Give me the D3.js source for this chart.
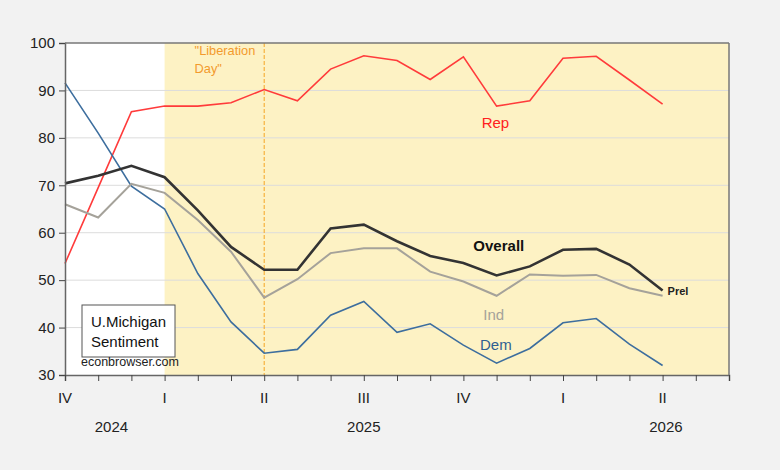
<!DOCTYPE html>
<html>
<head>
<meta charset="utf-8">
<script src="https://cdn.jsdelivr.net/npm/d3@7"></script>
<style>
body{margin:0;background:#f2f2f2;}
svg{display:block;font-family:Arial,"Liberation Sans",sans-serif;}
.grid line{stroke:#dcdcdc;stroke-width:1;}
.ejeY text,.ejeX text{font-size:15px;fill:#222;}
</style>
</head>
<body>
<div id="grafica"></div>
<script>
// meses desde oct 2024 (indice 0) hasta abr 2026 (indice 18)
var meses = d3.range(0,19);
var rep     = [53.5,69.5,85.5,86.7,86.7,87.4,90.2,87.8,94.5,97.3,96.3,92.3,97.1,86.7,87.8,96.8,97.2,92.2,87.1];
var overall = [70.4,72.0,74.1,71.7,64.7,57.0,52.2,52.2,60.9,61.7,58.2,55.1,53.6,51.0,52.9,56.4,56.6,53.3,47.8];
var ind     = [66.0,63.2,70.3,68.4,62.7,56.0,46.3,50.2,55.7,56.7,56.7,51.8,49.7,46.7,51.2,50.9,51.1,48.3,46.7];
var dem     = [91.6,81.0,69.8,65.0,51.4,41.2,34.6,35.4,42.6,45.5,39.0,40.8,36.3,32.5,35.6,41.0,41.9,36.5,32.0];
var yTicks = [30,40,50,60,70,80,90,100];
var trimestres = [{m:0,t:"IV"},{m:3,t:"I"},{m:6,t:"II"},{m:9,t:"III"},{m:12,t:"IV"},{m:15,t:"I"},{m:18,t:"II"}];
var anios = [{m:1.4,t:"2024"},{m:9,t:"2025"},{m:18.1,t:"2026"}];
var inicioSombra = 3, liberacion = 6, finEje = 20;

var w = 780, h = 470;
var margin = {top:43,right:51,bottom:95,left:65};
var iw = w-margin.left-margin.right, ih = h-margin.top-margin.bottom;

var svg = d3.select("#grafica").append("svg").attr("width",w).attr("height",h);
var g = svg.append("g").attr("transform","translate("+margin.left+","+margin.top+")");

var x = d3.scaleLinear().domain([0,finEje]).range([0,iw]);
var y = d3.scaleLinear().domain([30,100]).range([ih,0]);

// fondo
g.append("rect").attr("width",iw).attr("height",ih).attr("fill","#fff");
g.append("rect").attr("x",x(inicioSombra)).attr("width",x(finEje)-x(inicioSombra)).attr("height",ih).attr("fill","#fdf2c4");

// lineas de la cuadricula
g.append("g").attr("class","grid").selectAll("line").data(yTicks.slice(1,-1)).enter().append("line")
	.attr("x1",0).attr("x2",iw).attr("y1",function(d){return y(d);}).attr("y2",function(d){return y(d);});

// linea "Liberation Day"
g.append("line").attr("x1",x(liberacion)).attr("x2",x(liberacion)).attr("y1",0).attr("y2",ih)
	.attr("stroke","#f5a623").attr("stroke-width",1).attr("stroke-dasharray","4,2");
var lib = g.append("text").attr("fill","#f39a2d").style("font-size","12.8px");
lib.append("tspan").attr("x",x(inicioSombra)+30).attr("y",12).text("\"Liberation");
lib.append("tspan").attr("x",x(inicioSombra)+30).attr("y",30).text("Day\"");

// series
var series = [
	{d:rep,c:"#ff3b3b",sw:1.6},
	{d:dem,c:"#3d6e9e",sw:1.6},
	{d:ind,c:"#a5a29a",sw:2},
	{d:overall,c:"#333333",sw:2.6}
];
var linea = d3.line().x(function(d,i){return x(meses[i]);}).y(function(d){return y(d);});
series.forEach(function(s){
	g.append("path").datum(s.d).attr("d",linea).attr("fill","none")
		.attr("stroke",s.c).attr("stroke-width",s.sw).attr("stroke-linejoin","miter");
});

// etiquetas de series
var etiquetas = [
	{t:"Rep",m:12.55,v:82.0,c:"#ff2020",fs:15,fw:"normal"},
	{t:"Overall",m:12.3,v:56.1,c:"#111",fs:15,fw:"bold"},
	{t:"Ind",m:12.6,v:41.6,c:"#a5a29a",fs:15,fw:"normal"},
	{t:"Dem",m:12.5,v:35.3,c:"#2f5f92",fs:15,fw:"normal"},
	{t:"Prel",m:18.15,v:46.9,c:"#222",fs:11,fw:"bold"}
];
g.selectAll(".etq").data(etiquetas).enter().append("text").attr("class","etq")
	.attr("x",function(d){return x(d.m);}).attr("y",function(d){return y(d.v);})
	.attr("fill",function(d){return d.c;}).style("font-size",function(d){return d.fs+"px";})
	.style("font-weight",function(d){return d.fw;}).text(function(d){return d.t;});

// caja de texto
g.append("rect").attr("x",17).attr("y",262).attr("width",93).attr("height",52)
	.attr("fill","#fff").attr("stroke","#555").attr("stroke-width",1);
g.append("text").attr("x",26).attr("y",284).style("font-size","15px").attr("fill","#111").text("U.Michigan");
g.append("text").attr("x",26).attr("y",304).style("font-size","15px").attr("fill","#111").text("Sentiment");
g.append("text").attr("x",16).attr("y",323).style("font-size","12.5px").attr("fill","#222").text("econbrowser.com");

// ejes
var ejeY = g.append("g").attr("class","ejeY").call(d3.axisLeft(y).tickValues(yTicks).tickSize(6).tickPadding(4));
ejeY.select(".domain").attr("stroke","#666").attr("stroke-width",1.5);
ejeY.selectAll(".tick line").attr("stroke","#444");

var ejeX = g.append("g").attr("class","ejeX").attr("transform","translate(0,"+ih+")")
	.call(d3.axisBottom(x).tickValues(d3.range(0,finEje+1)).tickSize(6).tickFormat(""));
ejeX.select(".domain").attr("stroke","#666").attr("stroke-width",1.5);
ejeX.selectAll(".tick line").attr("stroke","#444");

// borde derecho y superior
g.append("line").attr("x1",iw).attr("x2",iw).attr("y1",0).attr("y2",ih).attr("stroke","#777").attr("stroke-width",1.5);
g.append("line").attr("x1",0).attr("x2",iw).attr("y1",0).attr("y2",0).attr("stroke","#777").attr("stroke-width",1.5);

g.selectAll(".trim").data(trimestres).enter().append("text").attr("class","trim")
	.attr("x",function(d){return x(d.m);}).attr("y",ih+28).attr("text-anchor","middle")
	.style("font-size","15px").attr("fill","#222").text(function(d){return d.t;});
g.selectAll(".anio").data(anios).enter().append("text").attr("class","anio")
	.attr("x",function(d){return x(d.m);}).attr("y",ih+57).attr("text-anchor","middle")
	.style("font-size","15px").attr("fill","#222").text(function(d){return d.t;});
</script>
</body>
</html>
